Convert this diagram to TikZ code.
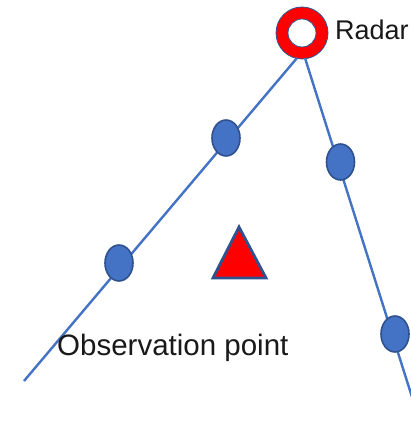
\documentclass[tikz,border=0pt]{standalone}
\usepackage{fontspec}
\setmainfont{Liberation Sans}
\definecolor{lineblue}{RGB}{68,114,196}
\definecolor{edgeblue}{RGB}{47,82,143}
\definecolor{radred}{RGB}{255,0,0}
\tikzset{
  track/.style={draw=lineblue, line width=2.4pt},
  target/.style={ellipse, draw=edgeblue, fill=lineblue, line width=1.6pt, minimum width=28pt, minimum height=36pt, inner sep=0pt},
  lbl/.style={text=black!90, inner sep=0pt, anchor=base west}
}
\usetikzlibrary{shapes.geometric}
\begin{document}
\begin{tikzpicture}[x=1pt,y=-1pt]
\useasboundingbox (0,0) rectangle (410,443);
\fill[white] (0,0) rectangle (410,443);
% radar
\node[circle, draw=edgeblue, fill=radred, line width=0.8pt, minimum size=52pt, inner sep=0pt] (radar) at (302,33) {};
\node[circle, draw=edgeblue, fill=white, line width=0.8pt, minimum size=28pt, inner sep=0pt] (radarin) at (302,33) {};
\coordinate (lstart) at (297,58);
\coordinate (rstart) at (305,58);
\coordinate (lend) at (24,381);
\coordinate (rend) at (412,397);
\draw[track] (lstart) -- (lend);
\draw[track] (rstart) -- (rend);
% targets
\node[target] (t1) at (226,138) {};
\node[target] (t2) at (119,263) {};
\node[target] (t3) at (340.5,162) {};
\node[target] (t4) at (395,334) {};
% observation point
\coordinate (ta) at (239,227);
\coordinate (tb) at (213,278);
\coordinate (tc) at (266,278);
\draw[draw=edgeblue, fill=radred, line width=2.8pt, line join=miter] (ta) -- (tb) -- (tc) -- cycle;
\node[lbl, font=\fontsize{27}{30}\selectfont] (radarlbl) at (335,40) {Radar};
\node[lbl, font=\fontsize{29.5}{32}\selectfont] (obslbl) at (57,355) {Observation point};
\end{tikzpicture}
\end{document}
